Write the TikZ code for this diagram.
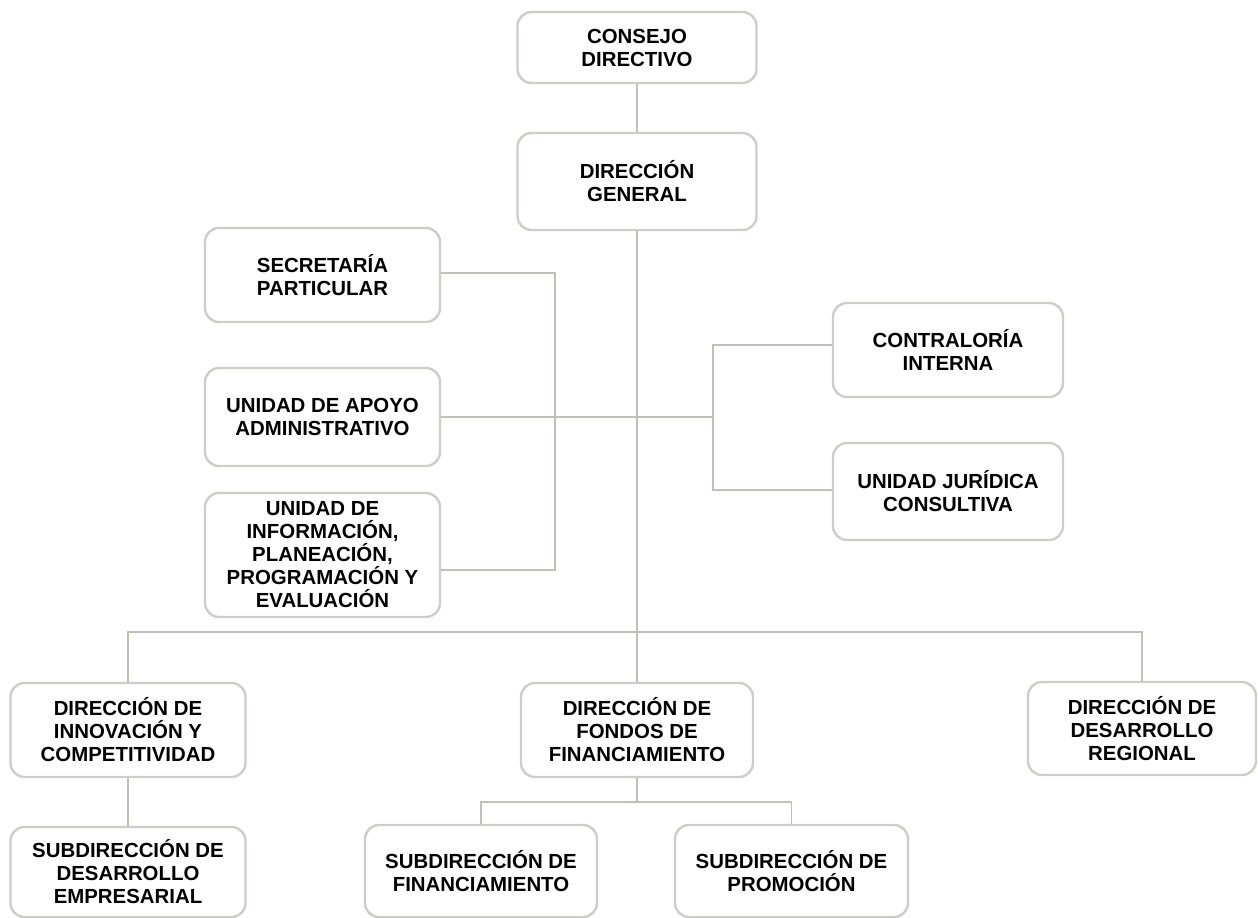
\documentclass[tikz,border=0pt]{standalone}
\usepackage{fontspec}
\setmainfont{Liberation Sans}
\begin{document}
\begin{tikzpicture}[x=1pt,y=-1pt,
  orgbox/.style={draw=boxgray, line width=2.4pt, rounded corners=14pt, fill=white,
    align=center, inner sep=2pt, font=\fontsize{20.4}{23}\selectfont\bfseries,
    text=black},
  link/.style={draw=linegray, line width=1.8pt}]
\definecolor{boxgray}{RGB}{206,206,198}
\definecolor{linegray}{RGB}{192,192,180}
\useasboundingbox (0,0) rectangle (1258,918);
\fill[white] (0,0) rectangle (1258,918);

% nodes
\node[orgbox, minimum width=239pt, minimum height=71pt] (cd) at (637,47.5) {CONSEJO\\DIRECTIVO};
\node[orgbox, minimum width=239pt, minimum height=97pt] (dg) at (637,181.5) {DIRECCIÓN\\GENERAL};
\node[orgbox, minimum width=235pt, minimum height=94pt] (sp) at (322.5,275) {SECRETARÍA\\PARTICULAR};
\node[orgbox, minimum width=235pt, minimum height=98pt] (ua) at (322.5,417) {UNIDAD DE APOYO\\ADMINISTRATIVO};
\node[orgbox, minimum width=235pt, minimum height=124pt] (ui) at (322.5,555) {UNIDAD DE\\INFORMACIÓN,\\PLANEACIÓN,\\PROGRAMACIÓN Y\\EVALUACIÓN};
\node[orgbox, minimum width=230pt, minimum height=94pt] (ci) at (948,350) {CONTRALORÍA\\INTERNA};
\node[orgbox, minimum width=230pt, minimum height=97pt] (uj) at (948,491.5) {UNIDAD JURÍDICA\\CONSULTIVA};
\node[orgbox, minimum width=235pt, minimum height=94pt] (di) at (128,730) {DIRECCIÓN DE\\INNOVACIÓN Y\\COMPETITIVIDAD};
\node[orgbox, minimum width=232pt, minimum height=94pt] (df) at (637,730) {DIRECCIÓN DE\\FONDOS DE\\FINANCIAMIENTO};
\node[orgbox, minimum width=228pt, minimum height=93pt] (dr) at (1142,728.5) {DIRECCIÓN DE\\DESARROLLO\\REGIONAL};
\node[orgbox, minimum width=235pt, minimum height=90pt] (sd) at (128,872) {SUBDIRECCIÓN DE\\DESARROLLO\\EMPRESARIAL};
\node[orgbox, minimum width=232pt, minimum height=92pt] (sf) at (481,871) {SUBDIRECCIÓN DE\\FINANCIAMIENTO};
\node[orgbox, minimum width=233pt, minimum height=92pt] (spr) at (791.5,871) {SUBDIRECCIÓN DE\\PROMOCIÓN};

% junction coordinates
\coordinate (j1) at (555,273);
\coordinate (j2) at (555,570);
\coordinate (rb) at (713,417);
\coordinate (rt) at (713,345);
\coordinate (rd) at (713,490);
\coordinate (bus) at (637,632);
\coordinate (sb) at (637,802);

% connectors
\draw[link] (cd.south) -- (dg.north);
\draw[link] (dg.south) -- (df.north);
\draw[link] (sp.east |- j1) -- (j1) -- (j2) -- (ui.east |- j2);
\draw[link] (ua.east) -- (rb);
\draw[link] (ci.west |- rt) -- (rt) -- (rd) -- (uj.west |- rd);
\draw[link] (di.north) |- (bus) -| (dr.north);
\draw[link] (di.south) -- (sd.north);
\draw[link] (df.south) -- (sb);
\draw[link] (sf.north) |- (sb) -| (spr.north);
\end{tikzpicture}
\end{document}
